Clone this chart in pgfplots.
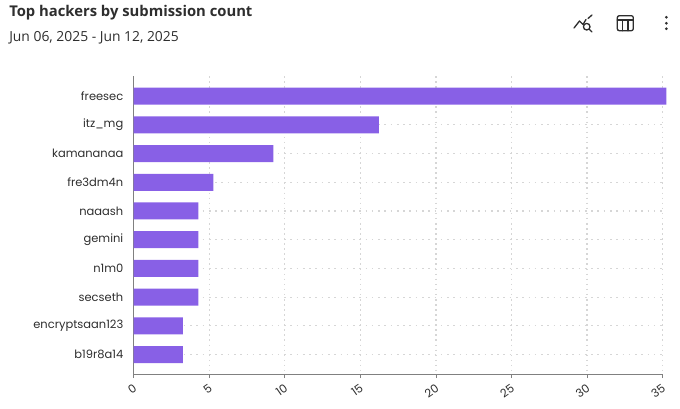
\documentclass[border=0pt]{standalone}
\usepackage{fontspec}
\setmainfont{Poppins}
\newfontfamily\titlefont{Open Sans}
\usepackage{pgfplots}
\pgfplotsset{compat=1.18}
\definecolor{barclr}{HTML}{8860E6}
\definecolor{axclr}{HTML}{808080}
\definecolor{gridclr}{HTML}{D6D6D6}
\definecolor{txtclr}{HTML}{2E2E2E}
\begin{document}
\begin{tikzpicture}
\path[use as bounding box] (0,0) rectangle (510pt,306pt);
\begin{axis}[
    at={(100.3pt,25pt)},
    anchor=south west,
    scale only axis,
    width=396.6pt,
    height=224pt,
    xbar,
    bar width=12.75pt,
    bar shift=0pt,
    clip=false,
    xmin=0, xmax=35,
    ymin=-0.7, ymax=9.7,
    y dir=reverse,
    axis lines*=left,
    axis line style={draw=axclr,line width=0.75pt,-},
    xtick={0,5,...,35},
    ytick={0,...,9},
    yticklabels={freesec,itz\_mg,kamananaa,fre3dm4n,naaash,gemini,n1m0,secseth,encryptsaan123,b19r8a14},
    tick style={draw=axclr,line width=0.6pt},
    ytick style={draw=none},
    tick align=outside,
    major tick length=2.5pt,
    grid=major,
    x grid style={draw=gridclr,line width=0.9pt,dash pattern=on 1.2pt off 2.6pt},
    y grid style={draw=gridclr,line width=0.9pt,dash pattern=on 1.2pt off 3.5pt},
    /pgf/number format/assume math mode=true,
    tick label style={font=\fontsize{8.6}{11}\selectfont,text=txtclr},
    xticklabel style={rotate=35,anchor=north east,xshift=0.5pt,yshift=0.6pt},
    yticklabel style={xshift=-1.8pt},
]
\addplot[fill=barclr,draw=none] coordinates {
(35.25,0) (16.22,1) (9.24,2) (5.27,3) (4.28,4) (4.28,5) (4.28,6) (4.28,7) (3.25,8) (3.25,9)};
\end{axis}
\begin{scope}[x=0.75pt,y=-0.75pt,yshift=306pt]
\node[anchor=base west,inner sep=0pt,text=txtclr,font=\titlefont\fontsize{11.1}{14}\selectfont\bfseries] at (9,17) {Top hackers by submission count};
\node[anchor=base west,inner sep=0pt,text=txtclr,font=\titlefont\fontsize{10.4}{12}\selectfont] at (9,41) {Jun 06, 2025 - Jun 12, 2025};
\begin{scope}[draw=txtclr,line width=1pt,line join=round,line cap=round]
\draw (574,28) -- (579.5,21) -- (583,24.5) -- (586,19.5);
\draw (588,18.5) -- (592,15);
\draw (586.7,26.7) circle (3.3);
\draw (589.3,29.3) -- (592,32);
\draw[rounded corners=1.5pt] (617.3,15.7) rectangle (633.3,30.7);
\draw (617.3,20) -- (633.3,20);
\draw (622.7,20) -- (622.7,30.7);
\draw (628,20) -- (628,30.7);
\end{scope}
\fill[txtclr] (666.3,17.3) circle (1.5) (666.3,23.3) circle (1.5) (666.3,28.7) circle (1.5);
\end{scope}
\end{tikzpicture}
\end{document}
